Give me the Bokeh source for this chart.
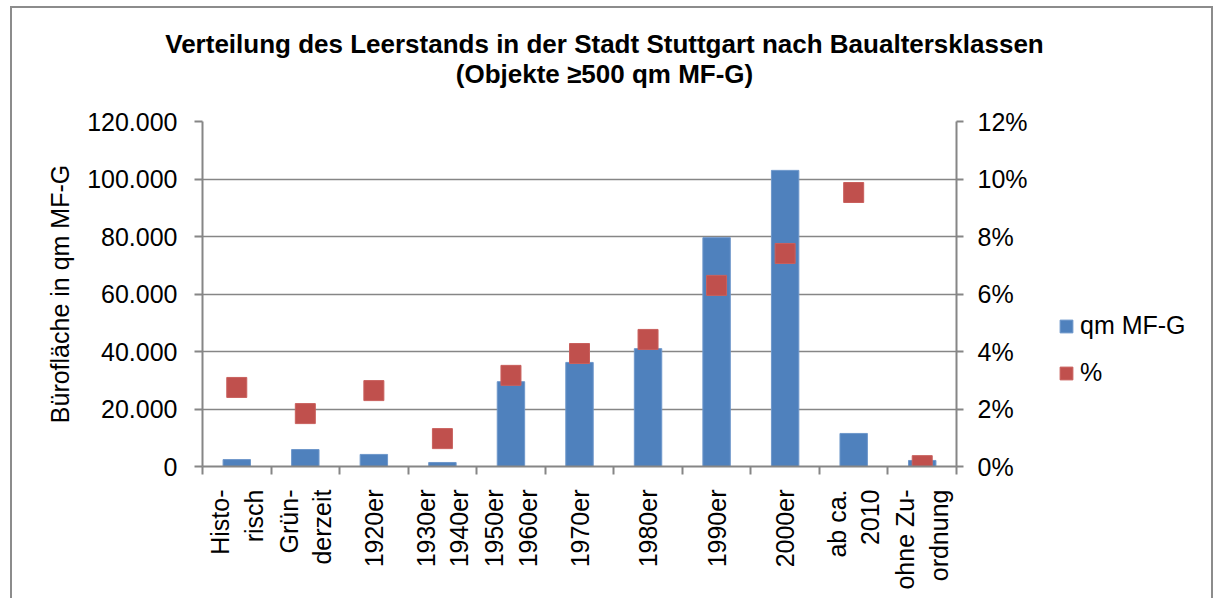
from bokeh.plotting import figure
from bokeh.layouts import row, column
from bokeh.models import (Range1d, LinearAxis, FixedTicker, Legend, LegendItem,
                          ColumnDataSource, Grid, Div)
from bokeh.embed import file_html
from bokeh.resources import INLINE

# ---- data ----
categories = ["Histo-\nrisch", "Grün-\nderzeit", "1920er", "1930er\n1940er", "1950er\n1960er",
              "1970er", "1980er", "1990er", "2000er", "ab ca.\n2010", "ohne Zu-\nordnung"]
qm_values = [2400, 5900, 4200, 1400, 29500, 36200, 41000, 79600, 103000, 11500, 2100]
pct_values = [2.75, 1.84, 2.64, 0.97, 3.17, 3.93, 4.42, 6.30, 7.41, 9.53, 0.03]
left_ticks = [0, 20000, 40000, 60000, 80000, 100000, 120000]
left_tick_labels = ["0", "20.000", "40.000", "60.000", "80.000", "100.000", "120.000"]
right_ticks = [0, 2, 4, 6, 8, 10, 12]
right_tick_labels = ["0%", "2%", "4%", "6%", "8%", "10%", "12%"]
title_lines = ["Verteilung des Leerstands in der Stadt Stuttgart nach Baualtersklassen",
               "(Objekte \u2265500 qm MF-G)"]
series_names = ["qm MF-G", "%"]

FONT = "Liberation Sans"
GREY = "#868686"
BLUE = "#4F81BD"
RED = "#C0504D"

n = len(categories)
xpos = list(range(n))
src = ColumnDataSource(dict(x=xpos, qm=qm_values, pct=pct_values))

TOTAL_W = 1199
TITLE_H = 90
H = 500
WM, WL = 1045, TOTAL_W - 1045

# ---- title (HTML text above the chart) ----
title_div = Div(
    text=("<div style=\"display:block;width:%dpx;box-sizing:border-box;"
          "font-family:'Liberation Sans',Arial,sans-serif;font-weight:bold;"
          "font-size:26px;line-height:30px;text-align:center;color:black;"
          "padding-top:21px;padding-right:14px;\">" % TOTAL_W
          + "<br>".join(title_lines) + "</div>"),
    width=TOTAL_W, height=TITLE_H, margin=0)

# ---- main chart ----
p = figure(width=WM, height=H, output_backend="svg", toolbar_location=None,
           x_range=Range1d(-0.5, n - 0.5), y_range=Range1d(0, 120000),
           min_border_left=190, min_border_right=WM - 944, min_border_top=23,
           min_border_bottom=132, title=None, x_axis_type=None, y_axis_type=None)
p.outline_line_color = None
p.background_fill_color = "white"
p.border_fill_color = "white"
p.extra_y_ranges = {"pct": Range1d(0, 12)}

xaxis = LinearAxis(ticker=FixedTicker(ticks=xpos,
                                      minor_ticks=[i - 0.5 for i in range(n + 1)]))
xaxis.major_label_overrides = {i: c for i, c in enumerate(categories)}
xaxis.major_label_orientation = 3.14159265 / 2
xaxis.major_tick_out = 0
xaxis.major_tick_in = 0
xaxis.minor_tick_out = 8
xaxis.minor_tick_in = 0
xaxis.minor_tick_line_color = GREY
xaxis.minor_tick_line_width = 2
xaxis.axis_line_color = GREY
xaxis.axis_line_width = 2
xaxis.major_label_standoff = 15
xaxis.major_label_text_font = FONT
xaxis.major_label_text_font_size = "25px"
xaxis.major_label_text_color = "black"
p.add_layout(xaxis, "below")

yaxis = LinearAxis(ticker=FixedTicker(ticks=left_ticks))
yaxis.major_label_overrides = dict(zip(left_ticks, left_tick_labels))
yaxis.axis_label = "Bürofläche in qm MF-G"
yaxis.axis_label_text_font = FONT
yaxis.axis_label_text_font_size = "25px"
yaxis.axis_label_text_font_style = "normal"
yaxis.axis_label_text_color = "black"
yaxis.axis_label_standoff = 10
yaxis.major_label_text_font = FONT
yaxis.major_label_text_font_size = "25px"
yaxis.major_label_text_color = "black"
yaxis.major_label_standoff = 17
yaxis.major_tick_out = 8
yaxis.major_tick_in = 0
yaxis.minor_tick_out = 0
yaxis.minor_tick_in = 0
yaxis.major_tick_line_color = GREY
yaxis.major_tick_line_width = 2
yaxis.axis_line_color = GREY
yaxis.axis_line_width = 2
p.add_layout(yaxis, "left")

raxis = LinearAxis(y_range_name="pct", ticker=FixedTicker(ticks=right_ticks))
raxis.major_label_overrides = dict(zip(right_ticks, right_tick_labels))
raxis.major_label_text_font = FONT
raxis.major_label_text_font_size = "25px"
raxis.major_label_text_color = "black"
raxis.major_label_standoff = 14
raxis.major_tick_out = 7
raxis.major_tick_in = 0
raxis.minor_tick_out = 0
raxis.minor_tick_in = 0
raxis.major_tick_line_color = GREY
raxis.major_tick_line_width = 2
raxis.axis_line_color = GREY
raxis.axis_line_width = 2
p.add_layout(raxis, "right")

grid = Grid(dimension=1, ticker=yaxis.ticker, grid_line_color=GREY, grid_line_width=1.5)
p.add_layout(grid)

bars = p.vbar(x="x", top="qm", width=0.4, source=src, fill_color=BLUE,
              line_color="#6E97CB", line_width=1)
pts = p.scatter(x="x", y="pct", source=src, y_range_name="pct", marker="square",
                size=20, fill_color=RED, line_color="#C9605D", line_width=1)

# ---- legend (separate narrow panel to the right, so it is not clipped) ----
lf = figure(width=WL, height=H, output_backend="svg", toolbar_location=None,
            x_range=Range1d(0, 1), y_range=Range1d(0, 1), min_border=0,
            title=None, x_axis_type=None, y_axis_type=None)
lf.outline_line_color = None
lf.background_fill_color = "white"
lf.border_fill_color = "white"
lg_bars = lf.vbar(x="x", top="qm", width=0.4, source=src, fill_color=BLUE,
                  line_color="#6E97CB", visible=False)
lg_pts = lf.vbar(x="x", top="pct", width=0.4, source=src, fill_color=RED,
                 line_color="#C9605D", visible=False)
legend = Legend(items=[LegendItem(label=series_names[0], renderers=[lg_bars]),
                       LegendItem(label=series_names[1], renderers=[lg_pts])],
                location=(1, 79), orientation="vertical")
legend.label_text_font = FONT
legend.label_text_font_size = "25px"
legend.label_text_color = "black"
legend.glyph_width = 16
legend.glyph_height = 16
legend.label_standoff = 6
legend.spacing = 18
legend.padding = 0
legend.margin = 0
legend.border_line_color = None
legend.background_fill_alpha = 0
legend.inactive_fill_alpha = 0
lf.add_layout(legend, "center")

layout = column(title_div, row(p, lf, spacing=0), spacing=0)
layout.styles = {"margin-left": "10px", "margin-top": "6px",
                 "border-top": "2px solid #8c8c8c", "border-left": "2px solid #8c8c8c",
                 "border-right": "2px solid #8c8c8c", "background-color": "white"}

open("out.html", "w").write(file_html(layout, INLINE))
